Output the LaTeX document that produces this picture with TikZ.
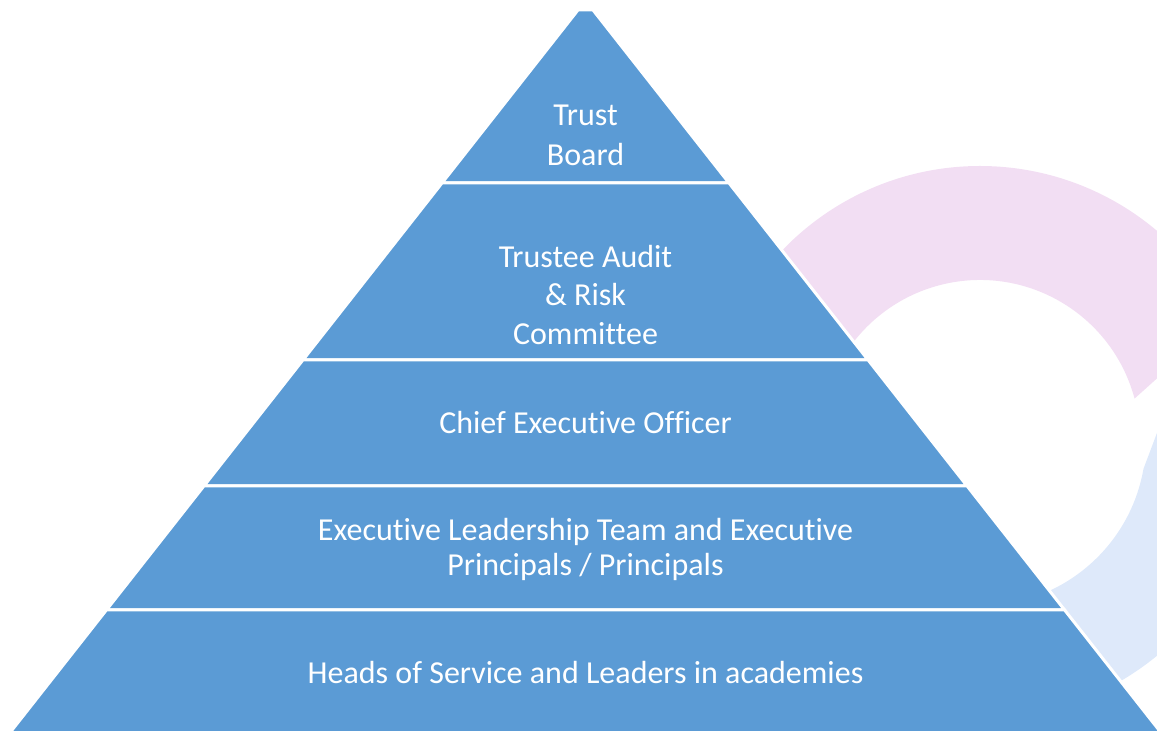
\documentclass[tikz,border=0pt]{standalone}
\usepackage{fontspec}
\setmainfont{Carlito}[Ligatures=NoCommon]
\definecolor{pyr}{HTML}{5B9BD5}
\definecolor{pinkring}{HTML}{F2DEF3}
\definecolor{bluering}{HTML}{DEE9FA}
\begin{document}
\begin{tikzpicture}[x=1pt,y=1pt,
  band/.style={fill=pyr, draw=white, line width=3pt, line join=miter},
  lbl/.style={text=white, font=\fontsize{32}{39}\selectfont, align=center, inner sep=0pt, anchor=base}]
\useasboundingbox (0,0) rectangle (1157,731);
\clip (0,0) rectangle (1157,731);
\coordinate (c) at (980,291);
% background rings
\fill[pinkring] ([shift={(180:274)}]c) arc[start angle=180,end angle=26.6,radius=274]
  -- ([shift={(15:160)}]c) arc[start angle=15,end angle=180,radius=160] -- cycle;
\fill[bluering] ([shift={(-10:166)}]c) arc[start angle=-10,end angle=-130,radius=166]
  -- ([shift={(-130:279)}]c) arc[start angle=-130,end angle=33.6,radius=279] -- cycle;
% pyramid bands
\filldraw[band] (578,721) -- (593,721) -- (729,548) -- (442,548) -- cycle;
\filldraw[band] (442,548) -- (729,548) -- (868.1,371) -- (302.9,371) -- cycle;
\filldraw[band] (302.9,371) -- (868.1,371) -- (967.1,245) -- (203.9,245) -- cycle;
\filldraw[band] (203.9,245) -- (967.1,245) -- (1064.6,121) -- (106.4,121) -- cycle;
\filldraw[band] (106.4,121) -- (1064.6,121) -- (1167.6,-10) -- (3.4,-10) -- cycle;
% labels (base anchor = baseline of the last line)
\node[lbl, font=\fontsize{32}{40}\selectfont] (trust) at (585.5,565) {Trust\\Board};
\node[lbl, font=\fontsize{32}{38.7}\selectfont] (audit) at (585.5,386.5) {Trustee Audit\\\& Risk\\Committee};
\node[lbl] (ceo) at (585.5,297.5) {Chief Executive Officer};
\node[lbl, font=\fontsize{32}{34.7}\selectfont] (elt) at (585.5,155.5) {Executive Leadership Team and Executive\\Principals / Principals};
\node[lbl] (heads) at (585.5,47.5) {Heads of Service and Leaders in academies};
\end{tikzpicture}
\end{document}
